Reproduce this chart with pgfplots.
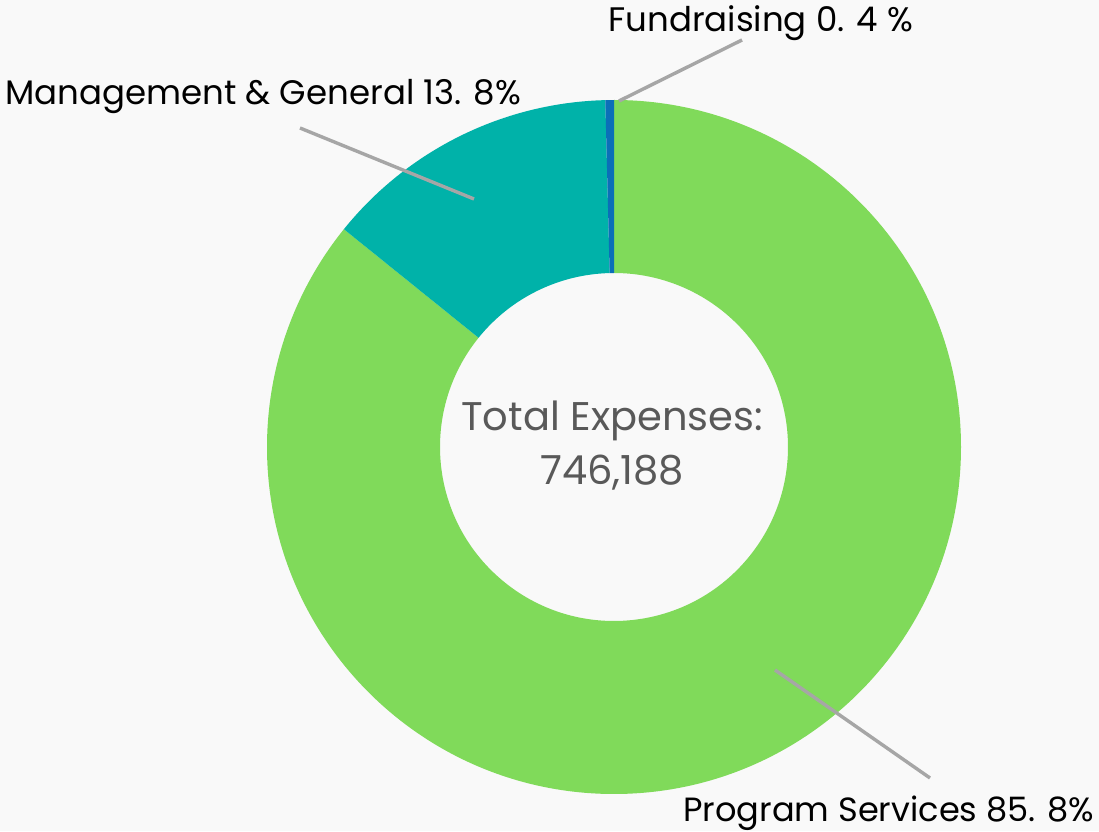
\documentclass[border=0pt]{standalone}
\usepackage{pgfplots}
\usepackage{pgfplotstable}
\pgfplotsset{compat=1.18}
\usepackage{fontspec}
\setmainfont{Poppins}
\definecolor{bg}{HTML}{F9F9F9}
\definecolor{cgreen}{HTML}{80DA5A}
\definecolor{cteal}{HTML}{00B2A9}
\definecolor{cblue}{HTML}{0B6FB8}
\definecolor{lead}{HTML}{A6A6A6}
\definecolor{ctext}{HTML}{595959}
\pgfplotstableread{
label value
Program 85.8
Management 13.8
Fundraising 0.4
}\datatable
\begin{document}
\begin{tikzpicture}
\pgfplotstablegetelem{0}{value}\of\datatable \pgfmathsetmacro{\va}{\pgfplotsretval}
\pgfplotstablegetelem{1}{value}\of\datatable \pgfmathsetmacro{\vb}{\pgfplotsretval}
\pgfplotstablegetelem{2}{value}\of\datatable \pgfmathsetmacro{\vc}{\pgfplotsretval}
\pgfmathsetmacro{\aA}{90}
\pgfmathsetmacro{\aB}{90-3.6*\va}
\pgfmathsetmacro{\aC}{\aB-3.6*\vb}
\pgfmathsetmacro{\aD}{\aC-3.6*\vc}
\begin{axis}[x=0.5pt,y=0.5pt,xmin=0,xmax=1099,ymin=0,ymax=831,hide axis,scale only axis,clip=true]
\fill[bg] (axis cs:0,0) rectangle (axis cs:1099,831);
% slices
\fill[cgreen] (axis cs:614,384) ++(\aA:173.5pt) arc[start angle=\aA,end angle=\aB,radius=173.5pt] -- ++(\aB:-86.5pt) arc[start angle=\aB,end angle=\aA,radius=87pt] -- cycle;
\fill[cteal] (axis cs:614,384) ++(\aB:173.5pt) arc[start angle=\aB,end angle=\aC,radius=173.5pt] -- ++(\aC:-86.5pt) arc[start angle=\aC,end angle=\aB,radius=87pt] -- cycle;
\fill[cblue] (axis cs:614,384) ++(\aC:173.5pt) arc[start angle=\aC,end angle=\aD,radius=173.5pt] -- ++(\aD:-86.5pt) arc[start angle=\aD,end angle=\aC,radius=87pt] -- cycle;
% leader lines
\addplot[lead,line width=1.7pt] coordinates {(619,730) (742,791)};
\addplot[lead,line width=1.7pt] coordinates {(300,703) (474,632)};
\addplot[lead,line width=1.7pt] coordinates {(775,161) (930,53)};
% labels
\node[anchor=base west,inner sep=0pt,font=\fontsize{17}{20}\selectfont] at (axis cs:608,799) {Fundraising 0. 4 \%};
\node[anchor=base west,inner sep=0pt,font=\fontsize{17}{20}\selectfont] at (axis cs:5,726) {Management \& General 13. 8\%};
\node[anchor=base west,inner sep=0pt,font=\fontsize{16.8}{20}\selectfont] at (axis cs:683,10) {Program Services 85. 8\%};
\node[anchor=base,inner sep=0pt,text=ctext,font=\fontsize{20}{24}\selectfont] at (axis cs:612,400) {Total Expenses:};
\node[anchor=base,inner sep=0pt,text=ctext,font=\fontsize{20}{24}\selectfont] at (axis cs:612,346) {746,188};
\end{axis}
\end{tikzpicture}
\end{document}
